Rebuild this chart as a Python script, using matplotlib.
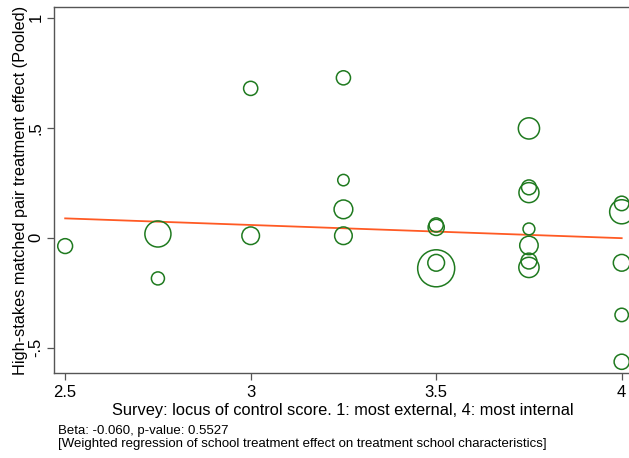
import matplotlib
matplotlib.use("Agg")
import matplotlib.pyplot as plt
import numpy as np

plt.rcParams['font.family'] = ['Liberation Sans', 'DejaVu Sans']

# School-level points: locus of control score, treatment effect, regression weight
locus_score = [2.5, 2.75, 2.75, 3.0, 3.0,
               3.25, 3.25, 3.25, 3.25,
               3.5, 3.5, 3.5, 3.5,
               3.75, 3.75, 3.75, 3.75, 3.75, 3.75, 3.75,
               4.0, 4.0, 4.0, 4.0, 4.0]
treat_effect = [-0.038, 0.017, -0.185, 0.679, 0.009,
                0.727, 0.262, 0.129, 0.009,
                0.058, 0.047, -0.139, -0.114,
                0.497, 0.229, 0.205, 0.040, -0.035, -0.106, -0.135,
                0.156, 0.118, -0.114, -0.351, -0.564]
weights = [2.2, 6.8, 1.7, 2.0, 3.1,
           2.0, 1.3, 3.5, 3.1,
           2.0, 2.6, 13.7, 2.8,
           4.5, 2.2, 4.0, 1.4, 3.4, 2.5, 4.1,
           2.1, 5.8, 2.8, 1.8, 2.3]

beta = -0.060
intercept = 0.238
p_value = 0.5527

x_ticks = [2.5, 3.0, 3.5, 4.0]
x_ticklabels = ['2.5', '3', '3.5', '4']
y_ticks = [-0.5, 0.0, 0.5, 1.0]
y_ticklabels = ['-.5', '0', '.5', '1']

green = '#1f7a1f'
orange = '#ff5a24'
frame = '#555555'

fig = plt.figure(figsize=(6.29, 4.58), dpi=100)
ax = fig.add_axes([0.0859, 0.1856, 0.919, 0.7991])

# marker area proportional to weight
sizes = np.array(weights) * 100 * 0.72 ** 2
ax.scatter(locus_score, treat_effect, s=sizes, facecolors='none',
           edgecolors=green, linewidths=1.1, zorder=3)

xs = np.array([min(locus_score), max(locus_score)])
ax.plot(xs, intercept + beta * xs, color=orange, lw=1.3, zorder=2)

ax.set_xlim(2.470, 4.028)
ax.set_ylim(-0.615, 1.049)
ax.set_xticks(x_ticks)
ax.set_xticklabels(x_ticklabels, fontsize=12)
ax.set_yticks(y_ticks)
ax.set_yticklabels(y_ticklabels, fontsize=12, rotation=90, va='center')
ax.tick_params(axis='both', length=5, width=0.9, color=frame, pad=4)
ax.tick_params(axis='y', pad=2.6)

for sp in ax.spines.values():
    sp.set_color(frame)
    sp.set_linewidth(1.0)

ax.set_xlabel('Survey: locus of control score. 1: most external, 4: most internal',
              fontsize=11.8, labelpad=2)
ax.set_ylabel('High-stakes matched pair treatment effect (Pooled)',
              fontsize=11.7, labelpad=0.2)

fig.text(0.092, 0.060, f'Beta: {beta:.3f}, p-value: {p_value:.4f}',
         fontsize=9.5, va='center', ha='left')
fig.text(0.092, 0.031,
         '[Weighted regression of school treatment effect on treatment school characteristics]',
         fontsize=9.5, va='center', ha='left')

fig.savefig('out.png', dpi=100)
